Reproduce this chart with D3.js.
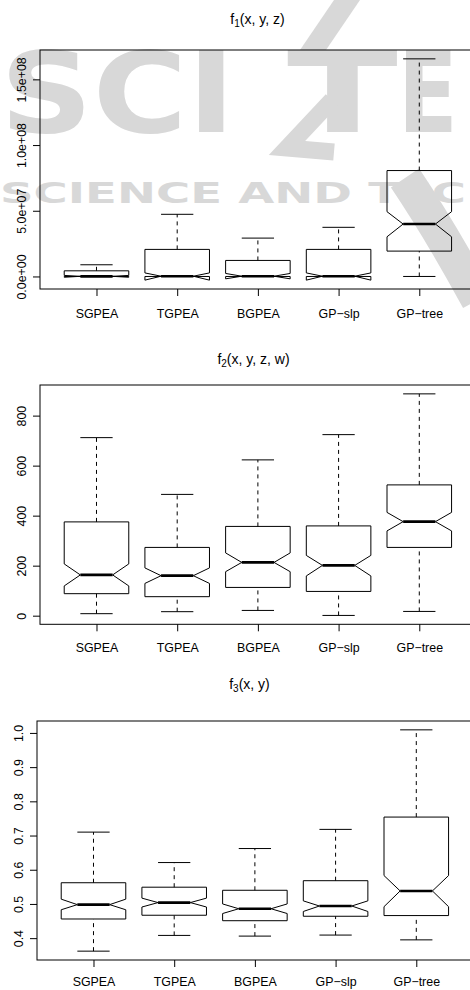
<!DOCTYPE html>
<html>
<head>
<meta charset="utf-8">
<script src="https://cdn.jsdelivr.net/npm/d3@7"></script>
<style>
  body { margin: 0; background: #fff; }
  svg { display: block; }
  text { font-family: "Liberation Sans", Arial, Helvetica, sans-serif; }
</style>
</head>
<body>
<div id="chart"></div>
<script>
// categories shared by all three panels
const categories = ["SGPEA", "TGPEA", "BGPEA", "GP\u2212slp", "GP\u2212tree"];

// f1(x, y, z)
const f1WhiskerLow  = [0, 0, 0, 0, 0];
const f1Q1          = [0, 0, 0, 0, 1.93e7];
const f1NotchLow    = [-0.06e7, -0.28e7, -0.18e7, -0.28e7, 3.02e7];
const f1Median      = [0.01e7, 0.02e7, 0.02e7, 0.02e7, 3.99e7];
const f1NotchHigh   = [0.08e7, 0.27e7, 0.23e7, 0.27e7, 4.93e7];
const f1Q3          = [0.43e7, 2.06e7, 1.22e7, 2.06e7, 8.06e7];
const f1WhiskerHigh = [0.89e7, 4.73e7, 2.92e7, 3.74e7, 16.56e7];
const f1Ticks       = [0, 5e7, 1e8, 1.5e8];
const f1TickLabels  = ["0.0e+00", "5.0e+07", "1.0e+08", "1.5e+08"];

// f2(x, y, z, w)
const f2WhiskerLow  = [8, 16, 21, 1, 17];
const f2Q1          = [88, 76, 113, 97, 273];
const f2NotchLow    = [119, 129, 176, 159, 339];
const f2Median      = [163, 160, 213, 201, 376];
const f2NotchHigh   = [207, 191, 251, 241, 413];
const f2Q3          = [375, 273, 357, 359, 523];
const f2WhiskerHigh = [712, 485, 623, 724, 887];
const f2Ticks       = [0, 200, 400, 600, 800];
const f2TickLabels  = ["0", "200", "400", "600", "800"];

// f3(x, y)
const f3WhiskerLow  = [0.362, 0.408, 0.406, 0.409, 0.395];
const f3Q1          = [0.456, 0.467, 0.451, 0.464, 0.466];
const f3NotchLow    = [0.483, 0.491, 0.472, 0.478, 0.492];
const f3Median      = [0.498, 0.504, 0.486, 0.494, 0.538];
const f3NotchHigh   = [0.514, 0.517, 0.500, 0.509, 0.583];
const f3Q3          = [0.562, 0.549, 0.540, 0.568, 0.754];
const f3WhiskerHigh = [0.710, 0.621, 0.662, 0.718, 1.009];
const f3Ticks       = [0.4, 0.5, 0.6, 0.7, 0.8, 0.9, 1.0];
const f3TickLabels  = ["0.4", "0.5", "0.6", "0.7", "0.8", "0.9", "1.0"];

function rows(wl, q1, nl, md, nh, q3, wh) {
    return categories.map((c, i) => ({
        cat: c, pos: i + 1,
        wl: wl[i], q1: q1[i], nl: nl[i], md: md[i], nh: nh[i], q3: q3[i], wh: wh[i]
    }));
}

const panels = [
    { sub: "1", args: "(x, y, z)", left: 40, top: 50, bottom: 289, titleX: 257.5, titleY: 24, labelOff: 29,
      data: rows(f1WhiskerLow, f1Q1, f1NotchLow, f1Median, f1NotchHigh, f1Q3, f1WhiskerHigh),
      ticks: f1Ticks, tickLabels: f1TickLabels },
    { sub: "2", args: "(x, y, z, w)", left: 40, top: 385, bottom: 624.3, titleX: 253.5, titleY: 364, labelOff: 28,
      data: rows(f2WhiskerLow, f2Q1, f2NotchLow, f2Median, f2NotchHigh, f2Q3, f2WhiskerHigh),
      ticks: f2Ticks, tickLabels: f2TickLabels },
    { sub: "3", args: "(x, y)", left: 37, top: 721, bottom: 960, titleX: 249.5, titleY: 689, labelOff: 26,
      data: rows(f3WhiskerLow, f3Q1, f3NotchLow, f3Median, f3NotchHigh, f3Q3, f3WhiskerHigh),
      ticks: f3Ticks, tickLabels: f3TickLabels }
];

const W = 470, H = 990;
const unit = 80.7;  // px per category

const svg = d3.select("#chart").append("svg")
    .attr("width", W).attr("height", H);

// publisher watermark behind the first panel
function drawWatermark() {
    const grey = "#d8d8d8";
    const g = svg.append("g").attr("fill", grey);
    const bigText = (x, sx, s) => g.append("text")
        .attr("transform", `translate(${x},132) scale(${sx},1)`)
        .style("font-family", "DejaVu Sans").style("font-weight", "bold").style("font-size", "112px")
        .text(s);
    bigText(0, 1.15, "SCI");
    bigText(287, 1.45, "T");
    bigText(398, 0.78, "E");
    // slash and chevron of the logo
    g.append("path").attr("d", "M300,50 L326,50 L360,0 L334,0 Z");
    g.append("path").attr("fill", "none").attr("stroke", grey).attr("stroke-width", 17)
        .attr("stroke-linejoin", "miter")
        .attr("d", "M332,100 L287,148 L334,152");
    // swoosh at the right
    g.append("path").attr("fill", "none").attr("stroke", grey).attr("stroke-width", 34)
        .attr("d", "M405,178 Q440,230 478,300");
    g.append("text").attr("x", 0).attr("y", 203)
        .attr("textLength", 466).attr("lengthAdjust", "spacingAndGlyphs")
        .style("font-family", "DejaVu Sans").style("font-weight", "bold").style("font-size", "29px")
        .text("SCIENCE AND TEC");
}

function drawPanel(p) {
    const x = d3.scaleLinear().domain([0.3, 5.7]).range([p.left, p.left + 5.4 * unit]);

    // y range like R: data incl. notches, padded 4%
    const lo = d3.min(p.data, d => Math.min(d.wl, d.nl));
    const hi = d3.max(p.data, d => Math.max(d.wh, d.nh));
    const pad = (hi - lo) * 0.04;
    const y = d3.scaleLinear().domain([lo - pad, hi + pad]).range([p.bottom, p.top]);

    const g = svg.append("g");

    // title with subscript
    const title = g.append("text")
        .attr("x", p.titleX).attr("y", p.titleY)
        .attr("text-anchor", "middle")
        .style("font-size", "14px");
    title.append("tspan").text("f");
    title.append("tspan").attr("dy", 3).style("font-size", "10px").text(p.sub);
    title.append("tspan").attr("dy", -3).text(p.args);

    // frame (right side runs off the picture)
    g.append("rect")
        .attr("x", x(0.3)).attr("y", p.top)
        .attr("width", x(5.7) - x(0.3)).attr("height", p.bottom - p.top)
        .attr("fill", "none").attr("stroke", "#000").attr("stroke-width", 1);

    const yAxis = g.append("g")
        .attr("transform", `translate(${p.left},0)`)
        .call(d3.axisLeft(y).tickValues(p.ticks)
            .tickFormat((d, i) => p.tickLabels[i]).tickSize(7).tickSizeOuter(0));
    yAxis.select(".domain").remove();
    yAxis.selectAll("line").attr("stroke", "#000");
    yAxis.selectAll("text")
        .attr("x", null).attr("dy", null)
        .attr("transform", "translate(-14,0) rotate(-90)")
        .attr("text-anchor", "middle")
        .style("font-size", "12.4px")
        .style("font-family", "'Liberation Sans', Arial, sans-serif")
        .attr("fill", "#000");

    const xAxis = g.append("g")
        .attr("transform", `translate(0,${p.bottom})`)
        .call(d3.axisBottom(x).tickValues([1, 2, 3, 4, 5])
            .tickFormat((d, i) => categories[i]).tickSize(7).tickSizeOuter(0));
    xAxis.select(".domain").remove();
    xAxis.selectAll("line").attr("stroke", "#000");
    xAxis.selectAll("text")
        .attr("dy", null).attr("y", p.labelOff)
        .style("font-size", "12.4px")
        .style("font-family", "'Liberation Sans', Arial, sans-serif")
        .attr("fill", "#000");

    const hw = 0.4 * unit;      // half box width
    const nw = 0.5 * hw;        // notch inset
    const cw = 0.5 * hw;        // staple half width

    const boxes = g.selectAll(".box").data(p.data).enter().append("g").attr("class", "box");

    // whiskers
    boxes.append("line")
        .attr("x1", d => x(d.pos)).attr("x2", d => x(d.pos))
        .attr("y1", d => y(d.wl)).attr("y2", d => y(d.q1))
        .attr("stroke", "#000").attr("stroke-dasharray", "4,4");
    boxes.append("line")
        .attr("x1", d => x(d.pos)).attr("x2", d => x(d.pos))
        .attr("y1", d => y(d.q3)).attr("y2", d => y(d.wh))
        .attr("stroke", "#000").attr("stroke-dasharray", "4,4");
    // staples
    boxes.append("line")
        .attr("x1", d => x(d.pos) - cw).attr("x2", d => x(d.pos) + cw)
        .attr("y1", d => y(d.wl)).attr("y2", d => y(d.wl))
        .attr("stroke", "#000");
    boxes.append("line")
        .attr("x1", d => x(d.pos) - cw).attr("x2", d => x(d.pos) + cw)
        .attr("y1", d => y(d.wh)).attr("y2", d => y(d.wh))
        .attr("stroke", "#000");

    // notched box
    const line = d3.line();
    boxes.append("path")
        .attr("d", d => {
            const c = x(d.pos);
            return line([
                [c - hw, y(d.q1)], [c + hw, y(d.q1)], [c + hw, y(d.nl)], [c + nw, y(d.md)],
                [c + hw, y(d.nh)], [c + hw, y(d.q3)], [c - hw, y(d.q3)], [c - hw, y(d.nh)],
                [c - nw, y(d.md)], [c - hw, y(d.nl)]
            ]) + "Z";
        })
        .attr("fill", "none").attr("stroke", "#000").attr("stroke-width", 1)
        .attr("stroke-linejoin", "round");

    // median
    boxes.append("line")
        .attr("x1", d => x(d.pos) - nw).attr("x2", d => x(d.pos) + nw)
        .attr("y1", d => y(d.md)).attr("y2", d => y(d.md))
        .attr("stroke", "#000").attr("stroke-width", 2.6);
}

drawWatermark();
panels.forEach(drawPanel);
</script>
</body>
</html>
